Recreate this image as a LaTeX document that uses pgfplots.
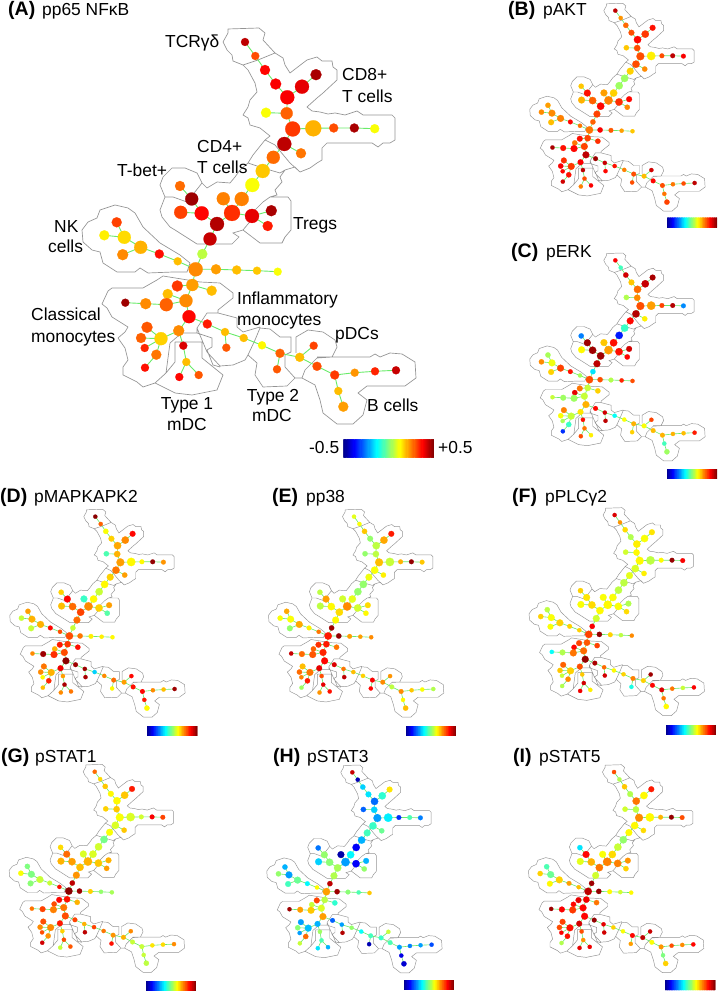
\documentclass[border=0pt]{standalone}
\usepackage{fontspec}
\setmainfont{Liberation Sans}
\usepackage{pgfplots}
\usepackage{pgfplotstable}
\pgfplotsset{compat=1.18}
\pgfplotstableread{
id x y r A B C D E F G H I
1 245 42 4 .44 .44 .38 .49 .10 .41 .27 .43 .30
2 255.3 56 4 .30 .23 -.06 .28 .12 .23 .16 -.45 .05
3 265 70 5 .37 .27 .42 .12 .18 .16 .18 -.17 .18
4 275.7 84 5.5 .38 .30 .18 .17 .02 .05 .13 -.15 .05
5 287.3 97.3 7 .38 .37 .27 .21 .06 .14 .13 -.27 .26
6 302 86.7 7 .40 .32 .43 .24 .21 .12 .18 -.08 .13
7 316 74.7 5.5 .46 .36 .46 .37 .35 .15 .35 .15 .35
8 286.7 113.3 6 .28 .30 .24 .20 .06 .13 .18 -.17 .06
9 266 112.7 5 .12 .18 .05 -.05 .02 .08 .17 -.28 .08
10 292.7 129 7.5 .32 .30 .30 .22 .19 .13 .12 -.22 .24
11 313.3 128.3 8 .20 .14 .22 .13 .07 .06 .09 -.14 .13
12 333.7 128 4.5 .30 .30 .31 .13 .20 .13 .08 -.33 .20
13 354.3 128 4.5 .46 .44 .45 .48 .48 .48 .38 -.05 .48
14 374.7 128.7 4.5 .12 .38 -.24 .23 .18 .38 .31 -.25 .30
15 284.3 144 7 .44 .30 .45 .26 .12 .09 .09 -.07 .13
16 301 153.3 5 .26 .24 .14 .22 .14 .14 .18 -.02 .16
17 273.3 157.3 6.5 .27 .17 .37 .17 .11 .10 .12 -.06 .13
18 262.7 171 7 .18 .03 -.07 .13 .02 .06 -.01 -.20 .02
19 252.3 185 7 .12 .03 -.35 .07 .02 .06 .08 -.38 .07
20 241.7 199 7 .25 .17 .36 .13 .10 .12 .09 -.13 .16
21 232 213 8 .33 .25 .22 .24 .24 .13 .20 -.22 .25
22 223.3 198.7 6.5 .25 .22 .18 -.07 .08 .12 .09 -.46 .12
23 252 216 7 .40 .33 .36 .17 .08 .12 .18 -.38 .25
24 271.3 210.7 5.5 .46 .37 .42 .22 .16 .05 .20 -.20 .23
25 267.7 226 5 .35 .24 .37 -.04 .13 .16 .22 .02 .17
26 180 186 5 .27 .18 -.25 .17 .06 .17 .16 -.26 -.15
27 191.7 199 6.5 .47 .36 .47 .37 .22 .15 .27 .02 .37
28 180.7 212.3 6.5 .31 .20 .13 .19 .06 .12 .20 -.17 .10
29 201.7 213.3 7 .37 .28 .47 .27 .13 .16 .22 .01 .20
31 217 224 7 .45 .37 .47 .31 .16 .13 .19 .04 .26
32 210 239 6.5 .43 .31 .44 .27 .13 .08 .23 .05 .08
33 116.7 222.3 5 .31 .22 .04 .22 .21 .06 .00 -.20 -.05
34 104.3 235.3 5 .14 .24 .24 .07 .12 .17 .12 .02 .17
35 124.3 237.3 6.5 .16 .24 .11 .20 .12 .12 .00 -.22 -.02
36 140.7 247.3 6.5 .20 .25 .31 .20 .21 .17 .07 -.02 .17
37 122.7 254.7 5.5 .24 .19 .17 .07 .02 .12 .01 -.06 .13
38 159.3 254 4.5 .36 .37 .36 .37 .14 .17 .07 -.13 .22
39 177.7 261.3 4 .19 .26 .04 .30 .26 .17 .36 .13 .19
40 202.3 254 5 .06 .28 -.15 .07 .47 .38 .44 .44 .47
41 195.7 269.3 7 .24 .26 .30 .30 .35 .31 .49 .22 .44
42 216 269.3 5 .22 .38 .30 .26 .48 .48 .47 .47 .48
43 236.7 270 4.5 .19 .29 .05 .14 .22 .17 .17 .01 .13
44 257 270.7 4 .18 .22 .34 .14 .22 .06 .02 -.05 .08
45 277.7 271.7 4 .12 .18 .30 .13 .24 .24 .04 .18 .13
46 192.3 285 6 .22 .31 .07 .32 .35 .29 .36 .06 .39
47 177.3 286 5.5 .32 .36 .26 .35 .33 .31 .37 .31 .40
48 211.7 290.7 5 .19 .33 .17 .36 .26 .31 .20 -.08 .26
49 167.7 294 5 .19 .26 .40 .20 .28 .37 .30 .07 .37
50 186 300.7 6.5 .24 .31 .07 .30 .34 .27 .26 .09 .37
51 166.3 304.7 6.5 .28 .37 .03 .33 .29 .26 .25 .18 .32
52 145.7 303.7 5.5 .24 .36 .03 .47 .27 .05 .31 .22 .38
53 125.3 302.7 4 .47 .46 .07 .24 .43 -.12 .26 .47 .47
54 189 316.7 6.5 .37 .44 .20 .49 .37 .48 .30 .22 .37
55 207.3 324 4.5 .35 .47 .37 .47 .41 .46 .31 -.28 .48
56 178.7 330.7 5.5 .24 .38 .15 .39 .40 .30 .35 -.20 .42
57 147 327.3 5.5 .29 .33 .25 .26 .19 .28 .30 -.22 .31
58 141 338 5 .28 .38 .12 .24 .27 .18 .24 .01 .30
59 161 338.7 6.5 .17 .32 .07 .20 .26 .17 .24 -.19 .36
60 144.7 348 4 .34 .37 .04 .13 .25 .07 .30 -.22 .38
61 156.3 354.7 5 .26 .36 -.07 .34 .35 .24 .23 .27 .36
62 145 367.7 4 .36 .42 -.33 .19 .03 .05 .42 .07 .05
63 183.3 345.7 4 .41 .44 .36 .22 .30 .18 .17 .03 .30
64 186.3 362 4 .19 .30 .26 .46 .40 .42 .30 -.05 .23
65 179.3 377 4 .37 .25 .30 .24 .23 .39 .07 -.15 .40
66 198.7 375 4 .29 .38 .14 .26 .36 .14 .29 -.20 .39
67 225 332 4 .19 .43 .42 .47 .26 .27 .20 -.22 .40
68 226.3 347.7 4 .29 .37 .44 .46 .44 .42 .44 .45 .42
69 243.7 338 4 .19 .36 -.12 -.17 .19 .13 .31 .02 .17
70 262 345.3 4 .13 .25 .12 .24 .17 .17 .26 -.12 .12
71 280 353.3 4.5 .28 .30 .20 .27 .38 .25 .23 -.06 .37
72 277 369.3 4 .29 .30 .17 .13 .37 -.10 .36 -.45 .22
73 299.7 357.3 4.5 .19 .19 .12 .22 .24 .17 .20 -.07 .44
74 313.7 345.7 4 .31 .42 .31 .37 .23 .47 .24 .07 .43
75 317 366.3 4.5 .30 .37 .19 .36 .06 .37 .07 -.05 .12
76 334.7 375 4.5 .32 .30 .20 .37 .24 .41 .07 -.22 .23
77 354.7 372.7 4 .23 .26 .20 .24 .18 .26 .15 -.25 .30
78 375 371.3 4 .34 .30 .19 .19 .12 .07 .16 -.22 .24
79 396 370.3 4 .43 .44 .35 .47 .05 .38 .24 -.30 .37
80 338.3 391 4 .19 .26 -.06 .35 .13 .26 .07 -.40 .00
81 343.3 406.7 5 .22 .31 .03 .13 .19 .13 .06 -.42 .17
}\nodesT
\pgfplotstableread{
x y
245 42
255.3 56
265 70
275.7 84
287.3 97.3
302 86.7
316 74.7
nan nan
287.3 97.3
286.7 113.3
292.7 129
313.3 128.3
333.7 128
354.3 128
374.7 128.7
nan nan
266 112.7
286.7 113.3
nan nan
292.7 129
284.3 144
301 153.3
nan nan
284.3 144
273.3 157.3
262.7 171
252.3 185
241.7 199
232 213
217 224
nan nan
223.3 198.7
232 213
252 216
271.3 210.7
nan nan
252 216
267.7 226
nan nan
180 186
191.7 199
201.7 213.3
217 224
210 239
202.3 254
195.7 269.3
216 269.3
236.7 270
257 270.7
277.7 271.7
nan nan
180.7 212.3
201.7 213.3
nan nan
195.7 269.3
177.7 261.3
159.3 254
140.7 247.3
124.3 237.3
116.7 222.3
nan nan
104.3 235.3
124.3 237.3
nan nan
140.7 247.3
122.7 254.7
nan nan
195.7 269.3
192.3 285
186 300.7
189 316.7
178.7 330.7
161 338.7
156.3 354.7
145 367.7
nan nan
177.3 286
192.3 285
211.7 290.7
nan nan
167.7 294
186 300.7
166.3 304.7
145.7 303.7
125.3 302.7
nan nan
147 327.3
161 338.7
141 338
nan nan
144.7 348
161 338.7
nan nan
189 316.7
207.3 324
225 332
243.7 338
262 345.3
280 353.3
299.7 357.3
317 366.3
334.7 375
354.7 372.7
375 371.3
396 370.3
nan nan
225 332
226.3 347.7
nan nan
280 353.3
277 369.3
nan nan
299.7 357.3
313.7 345.7
nan nan
334.7 375
338.3 391
343.3 406.7
nan nan
178.7 330.7
183.3 345.7
186.3 362
179.3 377
nan nan
186.3 362
198.7 375
}\edgesT
\pgfplotstableread{
x y
228 29
259 28
265 33
263 40
275 53
283 58
285 65
290 73
303 63
307 60
317 57
322 61
332 61
333 67
337 70
337 80
323 93
317 98
307 107
312 111
320 112
328 114
335 113
345 115
357 111
363 115
392 115
395 118
395 140
390 143
383 143
378 147
372 143
327 143
322 148
322 160
317 163
310 168
300 172
295 167
285 170
280 177
282 182
275 190
277 195
270 197
263 202
253 212
253 218
243 230
233 233
239 237
232 244
197 244
175 230
170 227
162 217
160 210
165 197
160 185
163 177
172 168
185 168
197 173
202 183
207 188
217 182
230 183
235 177
240 170
248 163
253 155
265 140
270 136
260 128
250 125
248 118
243 115
248 107
250 100
257 92
255 83
248 70
243 65
233 61
232 55
227 50
223 42
228 33
228 29
nan nan
243 65
258 60
275 53
nan nan
265 140
275 145
290 163
300 172
nan nan
248 163
263 168
280 173
285 170
nan nan
270 197
288 197
291 201
291 230
285 237
282 243
260 243
243 230
nan nan
165 197
173 197
187 202
202 183
nan nan
82 230
88 222
97 218
100 210
115 205
128 208
135 213
143 227
160 243
180 255
190 263
187 272
173 272
148 273
140 268
135 272
117 272
103 263
100 252
92 250
83 242
82 230
nan nan
108 291
102 304
107 308
112 317
128 327
125 332
118 338
125 348
128 360
123 367
123 375
137 382
143 387
155 383
166 373
168 358
170 343
177 337
183 333
197 333
197 328
207 313
218 313
237 318
237 327
243 332
260 327
nan nan
218 313
218 310
233 298
233 293
220 283
200 282
163 276
157 280
143 288
112 288
108 291
nan nan
197 328
202 340
207 352
220 366
233 365
245 360
248 355
nan nan
175 342
202 342
202 358
223 375
217 390
192 395
175 393
155 383
166 373
175 362
175 342
nan nan
197 333
212 338
212 347
207 350
213 365
220 367
nan nan
248 355
255 340
260 328
270 329
280 337
291 337
291 352
285 355
285 367
295 378
287 386
263 387
255 375
257 363
248 355
nan nan
296 353
296 337
308 330
323 332
335 340
337 347
332 357
317 358
305 370
302 378
295 378
nan nan
317 357
370 357
375 354
380 357
390 353
402 354
415 362
416 378
405 386
367 386
358 393
367 400
363 415
353 424
337 424
323 413
320 400
315 385
302 378
}\outlineT
\pgfplotsset{
  panelstyle/.style={scale only axis, hide axis, clip=false,
    xmin=0, xmax=718, ymin=0, ymax=992, y dir=reverse,
    colormap/jet, point meta min=-0.5, point meta max=0.5}
}
% #1 column, #2 ox, #3 oy, #4 scale, #5 bar x, #6 bar y, #7 bar w, #8 bar h
\newcommand\panel[8]{%
  \pgfmathsetmacro\ay{992-#3-992*#4}%
  \pgfmathsetmacro\aw{718*#4}%
  \pgfmathsetmacro\ah{992*#4}%
  \pgfmathsetmacro\cx{(#5-#2)/(718*#4)}%
  \pgfmathsetmacro\cy{1-(#6-#3)/(992*#4)}%
  \pgfmathsetmacro\lw{0.3+0.6*#4}%
  \begin{axis}[panelstyle, at={(#2pt,\ay pt)}, anchor=south west,
      width=\aw pt, height=\ah pt,
      colorbar horizontal, colorbar sampled,
      colorbar style={at={(\cx,\cy)}, anchor=north west, scale only axis,
        samples=80,
        width=#7pt, height=#8pt, xtick=\empty, ytick=\empty,
        axis line style={draw=none}}]
    \addplot[no marks, draw=black!42, line width=0.75*\lw pt, unbounded coords=jump] table[x=x,y=y]{\outlineT};
    \addplot[no marks, draw={rgb,255:red,105;green,235;blue,105}, line width=\lw pt, unbounded coords=jump] table[x=x,y=y]{\edgesT};
    \addplot[scatter, only marks, mark=*, point meta=explicit,
      scatter/use mapped color={draw=mapped color, fill=mapped color},
      visualization depends on={\thisrow{r}*#4 \as \nodeR},
      scatter/@pre marker code/.append style={/tikz/mark size=\nodeR},
      mark options={line width=0.2pt}]
      table[x=x,y=y,meta=#1]{\nodesT};
  \end{axis}%
}
\newcommand\lab[3]{\node[anchor=base west,inner sep=0pt,font=\fontsize{17.4}{20}\selectfont] at (#1pt,{(992-#2-6)*1pt}) {#3};}
\newcommand\labc[3]{\node[anchor=base,inner sep=0pt,font=\fontsize{17.4}{20}\selectfont] at (#1pt,{(992-#2-6)*1pt}) {#3};}
\newcommand\ttl[5]{\node[anchor=base west,inner sep=0pt,font=\fontsize{19.5}{20}\selectfont\bfseries] at (#1pt,{(992-#2-6)*1pt}) {#3};\lab{#4}{#2}{#5}}
\begin{document}
\begin{tikzpicture}
\path[use as bounding box] (0pt,0pt) rectangle (718pt,992pt);
\panel{A}{0}{0}{1}{343.3}{439.3}{91}{18.4}
\panel{B}{486.7}{-11.4}{0.525}{666.7}{217.7}{50.3}{10}
\panel{C}{486.7}{238.3}{0.525}{666.7}{469}{50.3}{10}
\panel{D}{-33.3}{494.6}{0.525}{147}{726}{50.3}{10}
\panel{E}{225.4}{494.6}{0.525}{405.7}{726}{50.3}{10}
\panel{F}{486}{493}{0.525}{666}{725}{50.3}{10}
\panel{G}{-33.9}{749.7}{0.525}{146}{981}{50.3}{10}
\panel{H}{223.7}{750.3}{0.525}{403.7}{980}{50.3}{10}
\panel{I}{485.4}{750}{0.525}{665}{980}{50.3}{10}
\ttl{8}{10}{(A)}{42}{pp65 NFκB}
\ttl{508}{10}{(B)}{543}{pAKT}
\ttl{511}{252}{(C)}{546}{pERK}
\ttl{0}{497}{(D)}{34}{pMAPKAPK2}
\ttl{272}{497}{(E)}{306}{pp38}
\ttl{512}{497}{(F)}{545}{pPLCγ2}
\ttl{1}{757}{(G)}{35}{pSTAT1}
\ttl{273}{757}{(H)}{307}{pSTAT3}
\ttl{513}{757}{(I)}{539}{pSTAT5}
\lab{165}{42}{TCRγδ}
\lab{342}{75}{CD8+}
\lab{342}{97}{T cells}
\lab{197}{147}{CD4+}
\lab{197}{168}{T cells}
\lab{117}{171}{T-bet+}
\lab{293}{224}{Tregs}
\lab{54}{227}{NK}
\lab{48}{247}{cells}
\lab{31}{315}{Classical}
\lab{31}{337}{monocytes}
\lab{237}{299}{Inflammatory}
\lab{237}{320}{monocytes}
\lab{335}{334}{pDCs}
\labc{187}{404}{Type 1}
\labc{187}{425}{mDC}
\labc{273}{396}{Type 2}
\labc{272}{416}{mDC}
\lab{367}{406}{B cells}
\lab{309}{448}{-0.5}
\lab{438}{448}{+0.5}
\end{tikzpicture}
\end{document}
